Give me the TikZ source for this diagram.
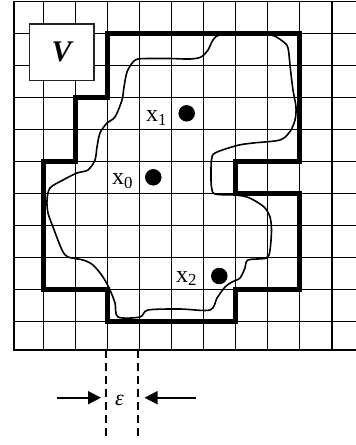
\documentclass[tikz,border=0pt]{standalone}
\usepackage{fontspec}
\setmainfont{Liberation Serif}
\usetikzlibrary{arrows.meta}
\tikzset{
  gridline/.style={line width=1.4pt, black},
  boundary/.style={line width=5.2pt, black, line join=miter},
  contour/.style={line width=1.6pt, black},
  dotmark/.style={circle, fill=black, inner sep=0pt, minimum size=16.5pt},
  ptlabel/.style={inner sep=0pt, anchor=base west, font=\fontsize{24}{26}\selectfont},
  vbox/.style={draw=black!85, line width=1.4pt, fill=white, minimum width=64.7pt, minimum height=56.7pt, inner sep=0pt, font=\fontsize{30}{32}\selectfont\bfseries\itshape},
  dimline/.style={line width=1.4pt, dash pattern=on 8pt off 5pt},
  dimarrow/.style={line width=1.6pt, -{Triangle[length=13pt, width=13pt]}}
}
\begin{document}
\begin{tikzpicture}[x=1pt, y=-1pt]
\useasboundingbox (0,0) rectangle (356,445);
% grid
\foreach \i in {1,...,10} {
  \draw[gridline] ({11.3+32.05*\i},1.2) -- ({11.3+32.05*\i},350);
}
\foreach \j in {1,...,10} {
  \draw[gridline] (14,{1.2+32.05*\j}) -- (356,{1.2+32.05*\j});
}
\draw[gridline] (356,1.2) -- (14,1.2) -- (14,350) -- (356,350);
% boundary of covering cells
\def\gx#1{11.3+32.05*#1}
\def\gy#1{1.2+32.05*#1}
\draw[boundary] ({\gx{3}},{\gy{1}}) -- ({\gx{9}},{\gy{1}}) -- ({\gx{9}},{\gy{5}}) -- ({\gx{7}},{\gy{5}}) -- ({\gx{7}},{\gy{6}}) -- ({\gx{9}},{\gy{6}}) -- ({\gx{9}},{\gy{9}}) -- ({\gx{7}},{\gy{9}}) -- ({\gx{7}},{\gy{10}}) -- ({\gx{3}},{\gy{10}}) -- ({\gx{3}},{\gy{9}}) -- ({\gx{1}},{\gy{9}}) -- ({\gx{1}},{\gy{5}}) -- ({\gx{2}},{\gy{5}}) -- ({\gx{2}},{\gy{3}}) -- ({\gx{3}},{\gy{3}}) -- cycle;
% contour
\draw[contour] plot[smooth cycle, tension=0.5] coordinates {
(138,59) (150,58.5) (170,58.5) (190,59) (201,57) (208,50) (213,40) (220,35) (245,34.5) (271,35) (283,41.5) (288,48) (290.5,70) (293,90) (296,107) (295,120) (290,131.5) (280,140) (253,143) (237,145.5) (215,153) (211.5,160) (211,175) (211.5,187) (215,194) (235,195) (247,197) (257,202) (265,208) (270,217) (271.5,230) (270,250) (266.5,258) (248,260) (245,268) (240,278) (232,282) (225,287) (217,298) (210,310) (180,309) (148,310) (140,317) (118,317) (115,303) (110,290) (103,277) (93,265) (83,260) (68,257) (62,250) (53,227) (48,213) (47,200) (50,188) (63,180) (77,173) (88,170) (95,160) (97,147) (100,133) (107,123) (115,117) (122,100) (124,87) (127,72) (133,62)
};
% V box
\node[vbox] (V) at (61.6,52.3) {V};
% points
\node[dotmark] (p1) at (186.7,113.3) {};
\node[dotmark] (p0) at (153.3,177.3) {};
\node[dotmark] (p2) at (219.3,276) {};
\node[ptlabel] (l1) at (146,121.5) {x\textsubscript{1}};
\node[ptlabel] (l0) at (112,184.5) {x\textsubscript{0}};
\node[ptlabel] (l2) at (176,282) {x\textsubscript{2}};
% epsilon dimension
\coordinate (d1t) at (106,350);
\coordinate (d1b) at (106,438);
\coordinate (d2t) at (138,350);
\coordinate (d2b) at (138,438);
\draw[dimline] (d1t) -- (d1b);
\draw[dimline] (d2t) -- (d2b);
\coordinate (a1s) at (57,397.7);
\coordinate (a1e) at (101,397.7);
\coordinate (a2s) at (196,397.7);
\coordinate (a2e) at (144.5,397.7);
\draw[dimarrow] (a1s) -- (a1e);
\draw[dimarrow] (a2s) -- (a2e);
\node[inner sep=0pt, font=\fontsize{22}{24}\selectfont\itshape] (eps) at (119.5,400) {ε};
\end{tikzpicture}
\end{document}
